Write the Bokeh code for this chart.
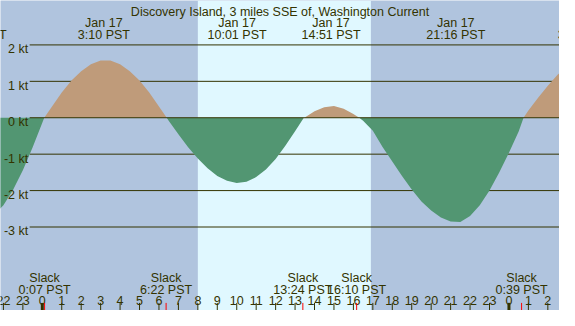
from bokeh.plotting import figure
from bokeh.models import Range1d
from bokeh.core.properties import value
from bokeh.embed import file_html
from bokeh.resources import INLINE

# ---------------- data ----------------
title = "Discovery Island, 3 miles SSE of, Washington Current"

# hours since Jan 17 00:00 PST and current speed in knots (+ flood, - ebb)
hours = [-2.5, -2.0, -1.5, -1.0, -0.5, 0.0, 0.1, 0.5, 1.0, 1.5, 2.0, 2.5, 3.0,
         3.5, 4.0, 4.5, 5.0, 5.5, 6.0, 6.4, 6.5, 7.0, 7.5, 8.0, 8.5, 9.0, 9.5,
         10.0, 10.5, 11.0, 11.5, 12.0, 12.5, 13.0, 13.45, 13.5, 14.0, 14.5,
         15.0, 15.5, 16.0, 16.3, 16.5, 17.0, 17.5, 18.0, 18.5, 19.0, 19.5,
         20.0, 20.5, 21.0, 21.5, 22.0, 22.5, 23.0, 23.5, 24.0, 24.5, 24.75,
         25.0, 25.5, 26.0, 26.5, 27.0]
knots = [-2.68, -2.40, -1.98, -1.44, -0.82, -0.14, 0.0, 0.31, 0.69, 1.02, 1.28,
         1.47, 1.57, 1.57, 1.47, 1.28, 1.02, 0.69, 0.31, 0.0, -0.08, -0.45,
         -0.81, -1.12, -1.39, -1.60, -1.73, -1.79, -1.76, -1.63, -1.42, -1.13,
         -0.77, -0.37, 0.0, 0.01, 0.18, 0.29, 0.32, 0.25, 0.10, 0.0, -0.08,
         -0.36, -0.80, -1.20, -1.60, -1.97, -2.30, -2.55, -2.74, -2.85, -2.86,
         -2.70, -2.40, -2.00, -1.50, -0.96, -0.38, 0.0, 0.20, 0.55, 0.88, 1.18,
         1.42]

kt_levels = [2, 1, 0, -1, -2, -3]
kt_labels = ["2 kt", "1 kt", "0 kt", "-1 kt", "-2 kt", "-3 kt"]

max_times = [-3.35, 3.167, 10.017, 14.85, 21.267, 27.85]
max_dates = ["Jan 16", "Jan 17", "Jan 17", "Jan 17", "Jan 17", "Jan 18"]
max_labels = ["20:39 PST", "3:10 PST", "10:01 PST", "14:51 PST", "21:16 PST", "3:51 PST"]

slack_times = [0.117, 6.367, 13.4, 16.167, 24.65]
slack_labels = ["0:07 PST", "6:22 PST", "13:24 PST", "16:10 PST", "0:39 PST"]

sunrise = 8.0
sunset = 16.9

hour_ticks = list(range(-2, 27))
hour_tick_labels = [str(h % 24) for h in hour_ticks]
midnights = [0, 24]

# ---------------- layout helpers ----------------
Y0_PX = 123.3        # reference pixel row of 0 kt
PX_PER_KT = 38.3
X0_PX = 43.0         # reference pixel column of hour 0
PX_PER_H = 20.0


def ky(px):
    return (Y0_PX - px) / PX_PER_KT


def hx(px):
    return (px - X0_PX) / PX_PER_H


BG = "#B0C4DE"
DAY = "#E0F8FF"
FLOOD = "#BF9B7A"
EBB = "#529672"
INK = "#333300"
FONT = value("Liberation Sans")
FS = "12.5px"

X_MIN, X_MAX = hx(0), hx(575)
Y_MIN, Y_MAX = ky(326), ky(0)

p = figure(width=559, height=310, output_backend="svg", toolbar_location=None,
           x_range=Range1d(X_MIN, X_MAX), y_range=Range1d(Y_MIN, Y_MAX),
           x_axis_location=None, y_axis_location=None, min_border=0)
p.grid.visible = False
p.outline_line_color = None
p.background_fill_color = BG
p.border_fill_color = BG

# daylight band
p.quad(left=[sunrise], right=[sunset], bottom=[Y_MIN], top=[Y_MAX],
       fill_color=DAY, line_color=None)

# grid lines (non-zero)
gx0 = hx(30)
nz = [k for k in kt_levels if k != 0]
p.segment(x0=[gx0] * len(nz), x1=[X_MAX] * len(nz), y0=nz, y1=nz,
          line_color=INK, line_width=1)

# current fills
pos = [max(v, 0.0) for v in knots]
neg = [min(v, 0.0) for v in knots]
p.varea(x=hours, y1=[0.0] * len(hours), y2=pos, fill_color=FLOOD)
p.varea(x=hours, y1=[0.0] * len(hours), y2=neg, fill_color=EBB)

# zero line on top
p.segment(x0=[gx0], x1=[X_MAX], y0=[0], y1=[0], line_color=INK, line_width=1)

# kt labels
p.text(x=[hx(28.5)] * len(kt_levels), y=[k + 4.7 / -PX_PER_KT * -1 * -1 for k in kt_levels],
       text=kt_labels, text_font=FONT, text_font_size=FS, text_color=INK,
       text_align="right", text_baseline="middle")

# title
p.text(x=[hx(287.5)], y=[ky(12)], text=[title], text_font=FONT, text_font_size=FS,
       text_color=INK, text_align="center", text_baseline="alphabetic")

# max current labels
p.text(x=max_times, y=[ky(24)] * len(max_times), text=max_dates, text_font=FONT,
       text_font_size=FS, text_color=INK, text_align="center", text_baseline="alphabetic")
p.text(x=max_times, y=[ky(36)] * len(max_times), text=max_labels, text_font=FONT,
       text_font_size=FS, text_color=INK, text_align="center", text_baseline="alphabetic")

# slack labels
p.text(x=slack_times, y=[ky(292)] * len(slack_times), text=["Slack"] * len(slack_times),
       text_font=FONT, text_font_size=FS, text_color=INK, text_align="center",
       text_baseline="alphabetic")
p.text(x=slack_times, y=[ky(304)] * len(slack_times), text=slack_labels,
       text_font=FONT, text_font_size=FS, text_color=INK, text_align="center",
       text_baseline="alphabetic")

# hour tick labels
p.text(x=hour_ticks, y=[ky(316)] * len(hour_ticks), text=hour_tick_labels,
       text_font=FONT, text_font_size=FS, text_color=INK, text_align="center",
       text_baseline="alphabetic")

# hour ticks
t0, t1 = ky(318), Y_MIN
p.segment(x0=hour_ticks, x1=hour_ticks, y0=[t0] * len(hour_ticks),
          y1=[t1] * len(hour_ticks), line_color=INK, line_width=1)
p.segment(x0=midnights, x1=midnights, y0=[t0] * len(midnights),
          y1=[t1] * len(midnights), line_color=INK, line_width=3)
p.segment(x0=slack_times, x1=slack_times, y0=[t0] * len(slack_times),
          y1=[t1] * len(slack_times), line_color="#FF0000", line_width=1)

open("out.html", "w").write(file_html(p, INLINE))
